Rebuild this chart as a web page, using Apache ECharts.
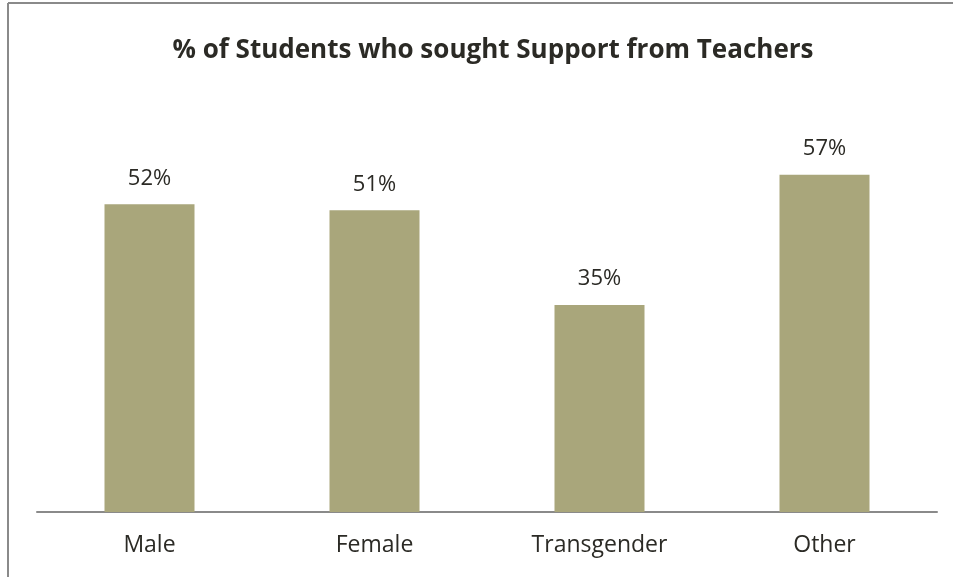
<!DOCTYPE html>
<html>
<head>
<meta charset="utf-8">
<script src="https://cdn.jsdelivr.net/npm/echarts@6/dist/echarts.min.js"></script>
<style>
  html, body { margin: 0; padding: 0; background: #fff; }
  #chart { width: 953px; height: 577px; }
</style>
</head>
<body>
<div id="chart"></div>
<script type="text/javascript">
	var categories = ['Male', 'Female', 'Transgender', 'Other'];
	var values = [52, 51, 35, 57];          // % sought support from teachers

	var myChart = echarts.init(document.getElementById('chart'));
	var font = '"Open Sans", "Liberation Sans", sans-serif';

	var option = {
		animation: false,
		title: {
			text: '% of Students who sought Support from Teachers',
			left: 488,
			textAlign: 'center',
			top: 33,
			textStyle: { fontFamily: font, fontSize: 26, fontWeight: 'bold', color: '#2b2a25' }
		},
		// frame of the chart area (only top and left edges show)
		graphic: [
			{ type: 'line', shape: { x1: 8, y1: 3, x2: 953, y2: 3 }, style: { stroke: '#8a8a8a', lineWidth: 2 } },
			{ type: 'line', shape: { x1: 8, y1: 3, x2: 8, y2: 577 }, style: { stroke: '#8a8a8a', lineWidth: 2 } }
		],
		grid: { left: 37, right: 16, top: 157, bottom: 65 },
		xAxis: {
			type: 'category',
			data: categories,
			axisLine: { lineStyle: { color: '#8a8a8a', width: 2 } },
			axisTick: { show: false },
			axisLabel: { margin: 22, fontFamily: font, fontSize: 23, color: '#2b2a25' }
		},
		yAxis: {
			type: 'value',
			min: 0,
			max: 60,
			show: false,
			splitLine: { show: false }
		},
		series: [{
			type: 'bar',
			data: values,
			barWidth: '40%',
			itemStyle: { color: '#a9a67b' },
			label: {
				show: true,
				position: 'top',
				distance: 15,
				formatter: '{c}%',
				fontFamily: font,
				fontSize: 22,
				color: '#2b2a25'
			}
		}]
	};
	myChart.setOption(option);
</script>
</body>
</html>
